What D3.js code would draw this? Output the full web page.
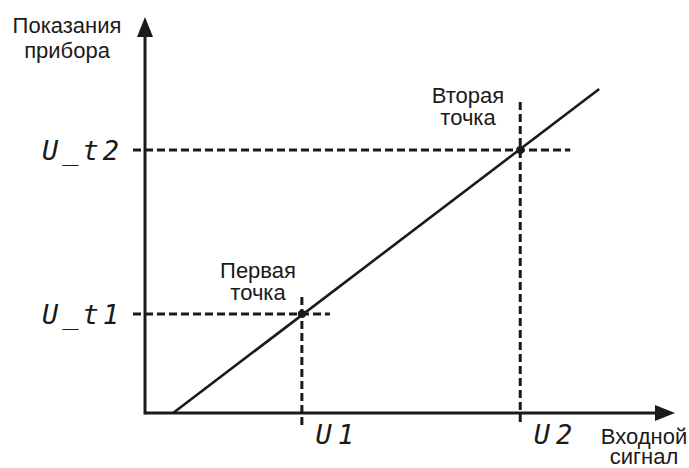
<!DOCTYPE html>
<html>
<head>
<meta charset="utf-8">
<script src="https://cdn.jsdelivr.net/npm/d3@7"></script>
<style>
  body { margin: 0; background: #fff; }
  svg { display: block; }
  .title { font-family: "Liberation Sans", Arial, sans-serif; font-size: 22px; fill: #1a1a1a; }
  .lcd { font-family: "DejaVu Sans Mono", monospace; font-style: italic; font-size: 27px; fill: #1a1a1a; }
</style>
</head>
<body>
<div></div>
<script>
// calibration points (0..100 on both axes)
const pointX = [29.6, 70.8]      // U1, U2
const pointY = [25.0, 66.4]      // U_t1, U_t2
const lineX = [5.3, 85.7]
const lineY = [0, 81.8]
const xTickLabels = ['U1', 'U2']
const yTickLabels = ['U_t1', 'U_t2']
const pointLabels = [['Первая', 'точка'], ['Вторая', 'точка']]
const xTitle = ['Входной', 'сигнал']
const yTitle = ['Показания', 'прибора']

let width = 689
let height = 468
let ink = '#1a1a1a'

var svg = d3.select('div')
  .append('svg')
  .attr('width', width)
  .attr('height', height)

var x = d3.scaleLinear().domain([0, 100]).range([145, 675])
var y = d3.scaleLinear().domain([0, 100]).range([413, 17])

// axes with arrow heads
let arrow = 20
svg.append('line')
  .attr('x1', x(0)).attr('y1', y(0))
  .attr('x2', x(100) - arrow + 2).attr('y2', y(0))
  .attr('stroke', ink).attr('stroke-width', 3)
svg.append('line')
  .attr('x1', x(0)).attr('y1', y(0) + 1.5)
  .attr('x2', x(0)).attr('y2', y(100) + arrow - 2)
  .attr('stroke', ink).attr('stroke-width', 3)
svg.append('path')
  .attr('d', `M${x(100)},${y(0)} L${x(100) - arrow},${y(0) - 8} L${x(100) - arrow},${y(0) + 8} Z`)
  .attr('fill', ink)
svg.append('path')
  .attr('d', `M${x(0)},${y(100)} L${x(0) - 8},${y(100) + arrow} L${x(0) + 8},${y(100) + arrow} Z`)
  .attr('fill', ink)

// dashed guides
let dash = '8,4'
let guideRight = [28, 50]
let guideTop = [17, 48]
pointX.forEach(function(d, i) {
  svg.append('line')
    .attr('x1', x(0) - 12).attr('y1', y(pointY[i]))
    .attr('x2', x(d) + guideRight[i]).attr('y2', y(pointY[i]))
    .attr('stroke', ink).attr('stroke-width', 3)
    .attr('stroke-dasharray', dash)
  svg.append('line')
    .attr('x1', x(d)).attr('y1', y(pointY[i]) - guideTop[i])
    .attr('x2', x(d)).attr('y2', y(0) + 13)
    .attr('stroke', ink).attr('stroke-width', 3)
    .attr('stroke-dasharray', dash)
})

// characteristic line
svg.append('path')
  .datum(d3.zip(lineX, lineY))
  .attr('d', d3.line().x(d => x(d[0])).y(d => y(d[1])))
  .attr('fill', 'none')
  .attr('stroke', ink)
  .attr('stroke-width', 2.6)

svg.selectAll('circle')
  .data(pointX)
  .enter()
  .append('circle')
  .attr('cx', d => x(d))
  .attr('cy', (d, i) => y(pointY[i]))
  .attr('r', 4)
  .attr('fill', ink)

// tick labels (LCD style)
svg.append('g')
  .attr('transform', `translate(${x(0)},0)`)
  .call(d3.axisLeft(y).tickValues(pointY).tickSize(0).tickPadding(22)
    .tickFormat((d, i) => yTickLabels[i]))
  .call(g => g.select('.domain').remove())
  .selectAll('text')
  .attr('class', 'lcd')
  .attr('font-size', null).attr('font-family', null).attr('fill', null)
  .attr('letter-spacing', 4)
  .attr('dy', '0.36em')

svg.append('g')
  .attr('transform', `translate(0,${y(0)})`)
  .call(d3.axisBottom(x).tickValues(pointX).tickSize(0).tickPadding(10)
    .tickFormat((d, i) => xTickLabels[i]))
  .call(g => g.select('.domain').remove())
  .selectAll('text')
  .attr('class', 'lcd')
  .attr('font-size', null).attr('font-family', null).attr('fill', null)
  .attr('text-anchor', 'start')
  .attr('letter-spacing', 6)
  .attr('dx', 13)
  .attr('dy', '0.76em')

// point captions
let captionX = [258, 468]
let captionY = [278, 103]
pointLabels.forEach(function(lines, i) {
  var t = svg.append('text').attr('class', 'title').attr('text-anchor', 'middle')
  lines.forEach(function(s, k) {
    t.append('tspan').attr('x', captionX[i]).attr('y', captionY[i] + k * 22).text(s)
  })
})

// axis titles
var ty = svg.append('text').attr('class', 'title').attr('text-anchor', 'middle')
yTitle.forEach(function(s, k) {
  ty.append('tspan').attr('x', 67).attr('y', 33 + k * 25).text(s)
})
var tx = svg.append('text').attr('class', 'title').attr('text-anchor', 'middle')
xTitle.forEach(function(s, k) {
  tx.append('tspan').attr('x', 644).attr('y', 444 + k * 20).text(s)
})
</script>
</body>
</html>
